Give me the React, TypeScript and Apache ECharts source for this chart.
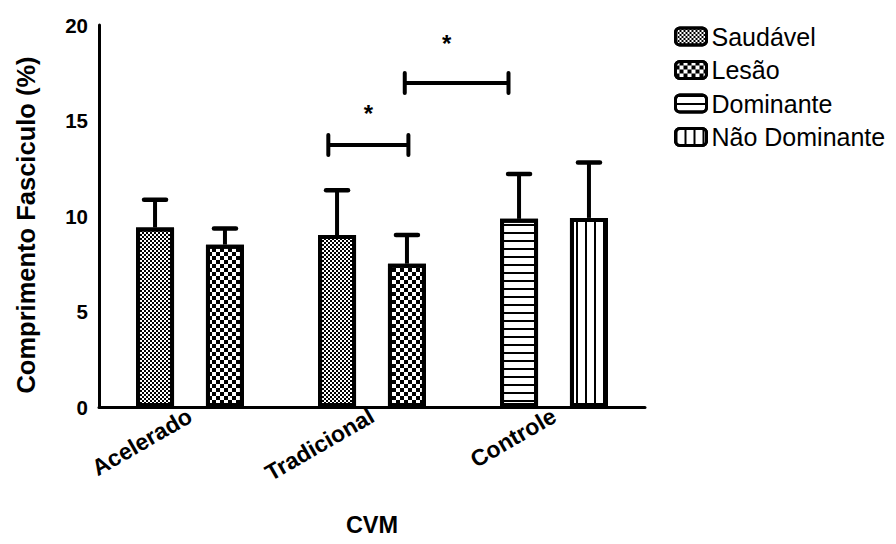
import React, { useEffect, useRef } from 'react';
import * as echarts from 'echarts';

const categories = ['Acelerado', 'Tradicional', 'Controle'];
const saudavel = [9.4, 9.0, null];
const saudavelSD = [1.45, 2.35, null];
const lesao = [8.5, 7.5, null];
const lesaoSD = [0.85, 1.5, null];
const dominante = [null, null, 9.85];
const dominanteSD = [null, null, 2.35];
const naoDominante = [null, null, 9.9];
const naoDominanteSD = [null, null, 2.9];
const yMin = 0;
const yMax = 20;
const yStep = 5;

// significance brackets (category index + offset as fraction of the band, y in axis units)
const bracketFromCat = [1, 1];
const bracketFromOff = [-0.24, 0.18];
const bracketToCat = [1, 2];
const bracketToOff = [0.2, -0.25];
const bracketY = [13.72, 16.96];
const starCat = [1, 1];
const starOff = [-0.02, 0.41];
const starY = [15.65, 19.3];
const starLabel = ['*', '*'];

const BAR_W = 38;
const BAR_GAP = 0.84;
const OFFSET = (BAR_W * (1 + BAR_GAP)) / 2;
const CAP = 11;
const FONT = 'Liberation Sans, Arial, sans-serif';

const decalFine = {
  symbol: 'rect', symbolSize: 1, symbolKeepAspect: false, color: '#000', backgroundColor: '#fff',
  dashArrayX: [[1.5, 1.5], [0, 1.5, 1.5, 0]], dashArrayY: [1.5, 0], rotation: 0,
};
const decalChecker = {
  symbol: 'rect', symbolSize: 1, symbolKeepAspect: false, color: '#000', backgroundColor: '#fff',
  dashArrayX: [[4, 4], [0, 4, 4, 0]], dashArrayY: [4, 0], rotation: 0,
};
const decalHoriz = {
  symbol: 'rect', symbolSize: 1, symbolKeepAspect: false, color: '#000', backgroundColor: '#fff',
  dashArrayX: [10, 0], dashArrayY: [1.2, 5.3], rotation: 0,
};
const decalVert = {
  symbol: 'rect', symbolSize: 1, symbolKeepAspect: false, color: '#000', backgroundColor: '#fff',
  dashArrayX: [1.2, 6.8], dashArrayY: [10, 0], rotation: 0,
};

function errData(means: (number | null)[], sds: (number | null)[], side: number) {
  const out: number[][] = [];
  means.forEach((m, i) => {
    if (m != null && sds[i] != null) out.push([i, m, sds[i] as number, side]);
  });
  return out;
}

export default function App() {
  const ref = useRef<HTMLDivElement>(null);
  useEffect(() => {
    if (!ref.current) return;
    const chart = echarts.init(ref.current, null, { renderer: 'svg' });
    const barBase = (name: string, data: (number | null)[], stack: string, decal: any) => ({
      name, type: 'bar', stack, data, barWidth: BAR_W, barGap: `${BAR_GAP * 100}%`,
      itemStyle: { color: '#fff', borderColor: '#000', borderWidth: 4, decal },
      emphasis: { disabled: true },
    });
    const errorSeries = [
      ...errData(saudavel, saudavelSD, -1),
      ...errData(lesao, lesaoSD, 1),
      ...errData(dominante, dominanteSD, -1),
      ...errData(naoDominante, naoDominanteSD, 1),
    ];
    const brackets = bracketY.map((y, i) => [bracketFromCat[i], bracketFromOff[i], bracketToCat[i], bracketToOff[i], y]);
    const stars = starY.map((y, i) => [starCat[i], starOff[i], y, i]);
    chart.setOption({
      animation: false,
      textStyle: { fontFamily: FONT },
      grid: { left: 99, right: 251, top: 25, bottom: 137 },
      legend: {
        orient: 'vertical', left: 669, top: 19, itemWidth: 31, itemHeight: 17, itemGap: 8.5,
        icon: 'roundRect', data: ['Saudável', 'Lesão', 'Dominante', 'Não Dominante'],
        itemStyle: { borderColor: '#000', borderWidth: 3 },
        textStyle: { fontSize: 25, lineHeight: 25, color: '#000', fontFamily: FONT },
        itemTextGap: 10, selectedMode: false,
      },
      xAxis: {
        type: 'category', data: categories,
        name: 'CVM', nameLocation: 'middle', nameGap: 106,
        nameTextStyle: { fontSize: 23.5, fontWeight: 'bold', color: '#000' },
        axisLine: { lineStyle: { color: '#000', width: 3 } },
        axisTick: { alignWithLabel: true, length: 8, lineStyle: { color: '#000', width: 2.5 } },
        axisLabel: { rotate: 30, fontSize: 23, fontWeight: 'bold', color: '#000', margin: 7, interval: 0 },
      },
      yAxis: {
        type: 'value', min: yMin, max: yMax, interval: yStep,
        name: 'Comprimento Fasciculo (%)', nameLocation: 'middle', nameGap: 60,
        nameTextStyle: { fontSize: 25.5, fontWeight: 'bold', color: '#000', padding: [0, 18, 0, 0] },
        axisLine: { show: true, lineStyle: { color: '#000', width: 3 } },
        axisTick: { show: false },
        splitLine: { show: false },
        axisLabel: { fontSize: 20.5, fontWeight: 'bold', color: '#000', margin: 11 },
      },
      series: [
        barBase('Saudável', saudavel, 'left', decalFine),
        barBase('Lesão', lesao, 'right', decalChecker),
        barBase('Dominante', dominante, 'left', decalHoriz),
        barBase('Não Dominante', naoDominante, 'right', decalVert),
        {
          type: 'custom', name: 'erros', z: 5, silent: true, encode: { x: 0, y: 1 },
          data: errorSeries,
          renderItem: (_p: any, api: any) => {
            const cat = api.value(0), mean = api.value(1), sd = api.value(2), side = api.value(3);
            const base = api.coord([cat, mean]);
            const top = api.coord([cat, mean + sd]);
            const x = base[0] + side * OFFSET;
            return {
              type: 'group', children: [
                { type: 'line', shape: { x1: x, y1: base[1], x2: x, y2: top[1] }, style: { stroke: '#000', lineWidth: 4 } },
                { type: 'line', shape: { x1: x - CAP, y1: top[1], x2: x + CAP, y2: top[1] }, style: { stroke: '#000', lineWidth: 4.5, lineCap: 'round' } },
              ],
            };
          },
        },
        {
          type: 'custom', name: 'brackets', z: 5, silent: true, encode: { x: 0, y: 4 },
          data: brackets,
          renderItem: (_p: any, api: any) => {
            const band = api.size([1, 0])[0];
            const y = api.value(4);
            const a = api.coord([api.value(0), y]);
            const b = api.coord([api.value(2), y]);
            const x1 = a[0] + api.value(1) * band;
            const x2 = b[0] + api.value(3) * band;
            const yy = a[1];
            return {
              type: 'group', children: [
                { type: 'line', shape: { x1, y1: yy, x2, y2: yy }, style: { stroke: '#000', lineWidth: 4 } },
                { type: 'line', shape: { x1, y1: yy - 10, x2: x1, y2: yy + 10 }, style: { stroke: '#000', lineWidth: 4, lineCap: 'round' } },
                { type: 'line', shape: { x1: x2, y1: yy - 10, x2, y2: yy + 10 }, style: { stroke: '#000', lineWidth: 4, lineCap: 'round' } },
              ],
            };
          },
        },
        {
          type: 'custom', name: 'stars', z: 5, silent: true, encode: { x: 0, y: 2 },
          data: stars,
          renderItem: (_p: any, api: any) => {
            const band = api.size([1, 0])[0];
            const p = api.coord([api.value(0), api.value(2)]);
            return {
              type: 'text',
              style: {
                x: p[0] + api.value(1) * band, y: p[1] + 5, text: starLabel[api.value(3)],
                fontSize: 24, fontWeight: 'bold', fontFamily: FONT, fill: '#000',
                align: 'center', verticalAlign: 'middle',
              },
            };
          },
        },
      ],
    });
    return () => chart.dispose();
  }, []);
  return <div ref={ref} style={{ position: 'fixed', left: 0, top: 0, width: 896, height: 544, background: '#fff' }} />;
}
